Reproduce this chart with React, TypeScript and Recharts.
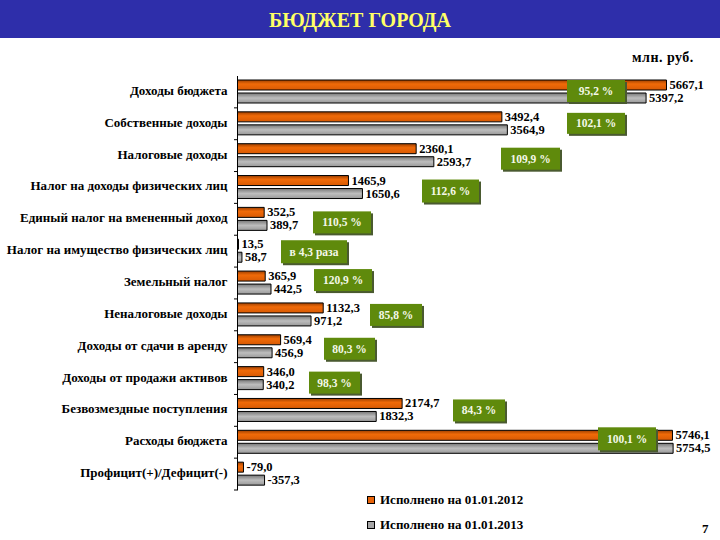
import React from "react";
import { BarChart, Bar, XAxis, YAxis, LabelList, Legend } from "recharts";

const categories = [
  "Доходы бюджета",
  "Собственные доходы",
  "Налоговые доходы",
  "Налог на  доходы физических лиц",
  "Единый налог на вмененный доход",
  "Налог на имущество физических лиц",
  "Земельный налог",
  "Неналоговые доходы",
  "Доходы от сдачи в аренду",
  "Доходы от продажи активов",
  "Безвозмездные поступления",
  "Расходы бюджета",
  "Профицит(+)/Дефицит(-)",
];
const values2012 = [5667.1, 3492.4, 2360.1, 1465.9, 352.5, 13.5, 365.9, 1132.3, 569.4, 346.0, 2174.7, 5746.1, -79.0];
const values2013 = [5397.2, 3564.9, 2593.7, 1650.6, 389.7, 58.7, 442.5, 971.2, 456.9, 340.2, 1832.3, 5754.5, -357.3];
const growth = ["95,2 %", "102,1 %", "109,9 %", "112,6 %", "110,5 %", "в 4,3 раза", "120,9 %", "85,8 %", "80,3 %", "98,3 %", "84,3 %", "100,1 %", ""];
const seriesNames = ["Исполнено на 01.01.2012", "Исполнено на 01.01.2013"];

// Annotation boxes (layout only): left, right, top offset and height relative to the grey bar's top
const badgeBoxes = [
  [567, 625, -13, 22], [567, 625, -12, 21], [501, 560, -9, 22], [422, 479, -9, 23],
  [313, 371, -9, 22], [281, 347, -12, 23], [314, 372, -15, 22], [370, 422, -12, 22],
  [324, 375, -10, 22], [309, 360, -8, 22], [453, 505, -12, 22], [598, 656, -16, 23],
];

const FONT = "'Liberation Serif', 'Times New Roman', serif";
const data = categories.map((name, i) => ({
  name,
  a: values2012[i],
  b: values2013[i],
  g: growth[i],
}));
const fmt = (v: number) => v.toFixed(1).replace(".", ",");

const CategoryTick = (props: any) => {
  const { x, y, payload, index } = props;
  const band = 31.85;
  const ax = x + 7.5;
  return (
    <g>
      <text x={x - 2} y={y + 3} textAnchor="end" fontFamily={FONT} fontWeight="bold" fontSize={13} fill="#000">
        {payload.value}
      </text>
      <line x1={ax - 3} x2={ax + 1} y1={y + band / 2} y2={y + band / 2} stroke="#000" />
    </g>
  );
};

const ValueLabel = (props: any) => {
  const { x, y, width, height, value } = props;
  return (
    <text x={x + width + 3} y={y + height / 2 + 4} fontFamily={FONT} fontWeight="bold" fontSize={12.5} fill="#000">
      {value}
    </text>
  );
};

const Badge = (props: any) => {
  const { y, index, value } = props;
  const box = badgeBoxes[index];
  if (!box || !value) return null;
  const [l, r, dy, h] = box;
  const top = y + dy;
  return (
    <g>
      <rect x={l + 2} y={top + 2} width={r - l} height={h} fill="#4a5a30" />
      <rect x={l} y={top} width={r - l} height={h} fill="#5f8a0c" />
      <text x={(l + r) / 2} y={top + h / 2 + 4} textAnchor="middle" fontFamily={FONT} fontWeight="bold" fontSize={11.5} fill="#f4f8e8">
        {value}
      </text>
    </g>
  );
};

const LegendContent = () => (
  <div style={{ fontFamily: FONT, fontWeight: "bold", fontSize: 13, color: "#000" }}>
    {seriesNames.map((n, i) => (
      <div key={n} style={{ display: "flex", alignItems: "center", height: 25 }}>
        <span
          style={{
            width: 6,
            height: 6,
            border: "1px solid #000",
            marginRight: 5,
            background: i === 0 ? "#e8640a" : "#a6a6a6",
          }}
        />
        {n}
      </div>
    ))}
  </div>
);

export default function App() {
  return (
    <div style={{ position: "absolute", left: 0, top: 0, width: 720, height: 540, background: "#fff", overflow: "hidden" }}>
      <div
        style={{
          position: "absolute", left: 0, top: 0, width: 720, height: 38, background: "#2e2eaa", color: "#ffff66",
          fontFamily: FONT, fontWeight: "bold", fontSize: 20, lineHeight: "41px", textAlign: "center",
        }}
      >
        БЮДЖЕТ ГОРОДА
      </div>
      <div style={{ position: "absolute", left: 632, top: 50, fontFamily: FONT, fontWeight: "bold", fontSize: 14, letterSpacing: 0.5, color: "#000" }}>
        млн. руб.
      </div>
      <div style={{ position: "absolute", left: 702, top: 521, fontFamily: FONT, fontWeight: "bold", fontSize: 13, color: "#000" }}>7</div>
      <div style={{ position: "absolute", left: 0, top: 0 }}>
        <BarChart
          width={720}
          height={540}
          data={data}
          layout="vertical"
          margin={{ top: 76, right: 28.3, bottom: 0, left: 0 }}
          barSize={10}
          barGap={3}
        >
          <defs>
            <linearGradient id="og" x1="0" y1="0" x2="0" y2="1">
              <stop offset="0" stopColor="#a04000" />
              <stop offset="0.4" stopColor="#f06a08" />
              <stop offset="1" stopColor="#d85a04" />
            </linearGradient>
            <linearGradient id="gg" x1="0" y1="0" x2="0" y2="1">
              <stop offset="0" stopColor="#777" />
              <stop offset="0.5" stopColor="#bdbdbd" />
              <stop offset="1" stopColor="#999" />
            </linearGradient>
          </defs>
          <XAxis type="number" hide domain={[0, 6000]} />
          <YAxis
            type="category"
            dataKey="name"
            width={237.5}
            interval={0}
            tick={<CategoryTick />}
            tickLine={false}
            axisLine={{ stroke: "#000" }}
          />
          <Legend
            layout="vertical"
            content={<LegendContent />}
            wrapperStyle={{ position: "absolute", left: 367, top: 487, width: 200, height: 50, bottom: "auto" }}
          />
          <Bar dataKey={(d: any) => Math.abs(d.a)} name={seriesNames[0]} fill="url(#og)" stroke="#000" isAnimationActive={false}>
            <LabelList dataKey={(d: any) => fmt(d.a)} content={<ValueLabel />} />
          </Bar>
          <Bar dataKey={(d: any) => Math.abs(d.b)} name={seriesNames[1]} fill="url(#gg)" stroke="#000" isAnimationActive={false}>
            <LabelList dataKey={(d: any) => fmt(d.b)} content={<ValueLabel />} />
            <LabelList dataKey="g" content={<Badge />} />
          </Bar>
        </BarChart>
      </div>
    </div>
  );
}
